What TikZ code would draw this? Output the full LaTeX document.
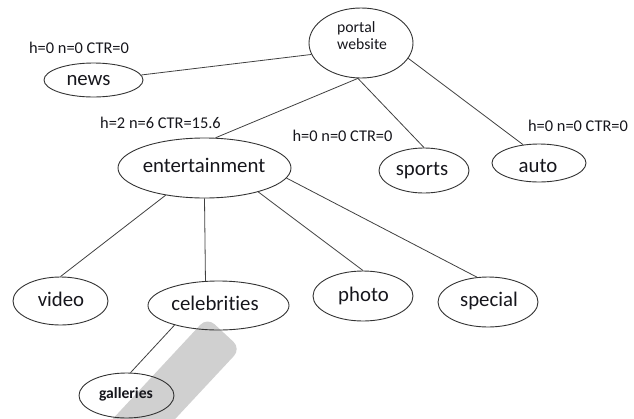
\documentclass[tikz,border=0pt]{standalone}
\usepackage{fontspec}
\setmainfont{Carlito}[Ligatures=NoCommon]
\usetikzlibrary{shapes.geometric}
\definecolor{bandgray}{RGB}{208,208,208}
\definecolor{inkc}{RGB}{22,22,28}
\begin{document}
\begin{tikzpicture}[x=1pt,y=-1pt,
 ell/.style={draw=black!80, line width=0.9pt, ellipse, inner sep=0pt},
 conn/.style={draw=black!75, line width=0.8pt},
 txt/.style={anchor=base, inner sep=0pt, text=inkc, font=\fontsize{20.8}{24}\selectfont},
 stat/.style={anchor=base, inner sep=0pt, text=inkc, font=\fontsize{16.4}{19}\selectfont},
]
\useasboundingbox (0,0) rectangle (634,418);
\begin{scope}
\clip (0,0) rectangle (634,418);
\fill[bandgray, rounded corners=10pt] (105.2,427) -- (207.2,317.4) -- (240.8,348.6) -- (138.8,458) -- cycle;
\end{scope}

\node[ell, minimum width=104pt, minimum height=70pt] (portal) at (361,43) {};
\node[ell, minimum width=99pt, minimum height=34pt] (news) at (93.5,80) {};
\node[ell, minimum width=173pt, minimum height=60pt] (ent) at (204.5,168) {};
\node[ell, minimum width=90pt, minimum height=45pt] (sports) at (424,170.5) {};
\node[ell, minimum width=94pt, minimum height=38pt] (auto) at (539,163) {};
\node[ell, minimum width=95pt, minimum height=48pt] (video) at (60.5,301) {};
\node[ell, minimum width=141pt, minimum height=49pt] (celeb) at (218.5,305.5) {};
\node[ell, minimum width=95pt, minimum height=45pt] (gall) at (126.5,395.5) {};
\node[ell, minimum width=100pt, minimum height=50pt] (photo) at (363,296) {};
\node[ell, minimum width=100pt, minimum height=50pt] (special) at (488,302) {};

\draw[conn] (news.6) -- (portal.193.5);
\draw[conn] (portal.265) -- (ent.70);
\draw[conn] (portal.265) -- (sports.north);
\draw[conn] (portal.342) -- (auto.131.6);
\draw[conn] (ent.215) -- (video.north);
\draw[conn] (ent.south) -- (celeb.118);
\draw[conn] (ent.336.6) -- (photo.north);
\draw[conn] (ent.353) -- (special.114.6);
\draw[conn] (celeb.204) -- (gall.80);

\node[txt] (t-news) at (88.5,85) {news};
\node[txt] (t-ent) at (204,172) {entertainment};
\node[txt] (t-sports) at (422,175) {sports};
\node[txt] (t-auto) at (538,172) {auto};
\node[txt] (t-video) at (61,306) {video};
\node[txt] (t-celeb) at (215,310) {celebrities};
\node[txt] (t-photo) at (363.5,301) {photo};
\node[txt] (t-special) at (489,306) {special};
\node[anchor=base, inner sep=0pt, text=inkc, font=\bfseries\fontsize{15.6}{18}\selectfont] (t-gall) at (126,398) {galleries};
\node[anchor=north west, align=left, inner sep=0pt, text=inkc, font=\fontsize{15.7}{17.3}\selectfont] (t-portal) at (337,21) {portal\\website};

\node[stat] (s-news) at (79,53.3) {h=0 n=0 CTR=0};
\node[stat] (s-ent) at (160.5,128.3) {h=2 n=6 CTR=15.6};
\node[stat] (s-sports) at (342.5,141.7) {h=0 n=0 CTR=0};
\node[stat] (s-auto) at (578,131.7) {h=0 n=0 CTR=0};
\end{tikzpicture}
\end{document}
